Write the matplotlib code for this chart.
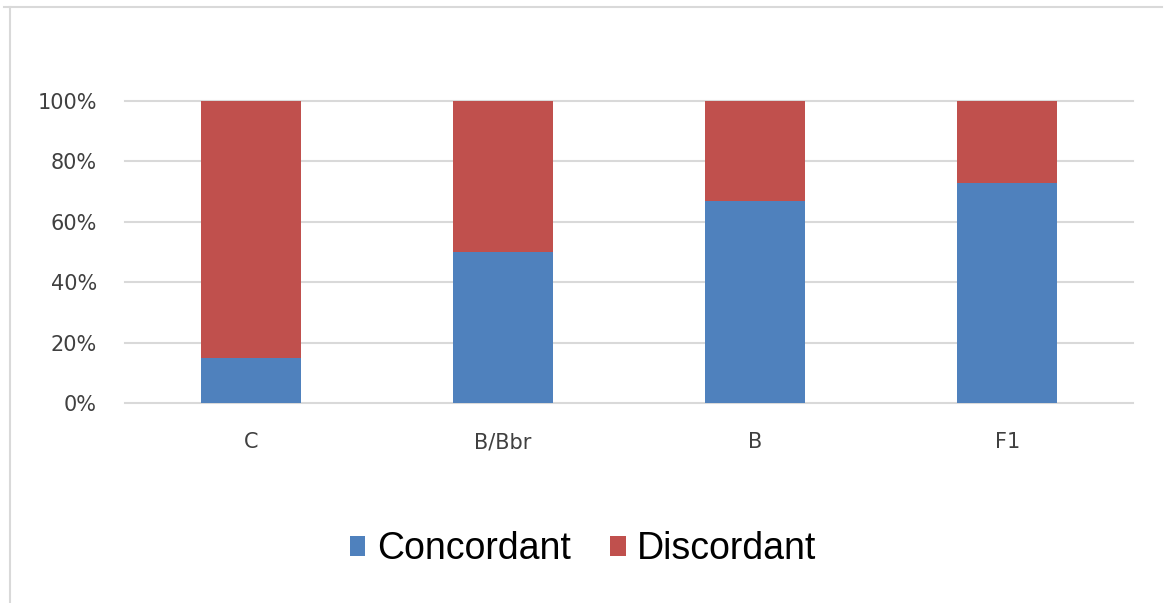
import matplotlib
matplotlib.use("Agg")
import matplotlib.pyplot as plt
from matplotlib.lines import Line2D
from matplotlib.ticker import FuncFormatter

categories = ["C", "B/Bbr", "B", "F1"]
concordant = [15, 50, 67, 73]
discordant = [85, 50, 33, 27]

blue = "#4F81BD"
red = "#C0504D"

fig = plt.figure(figsize=(11.66, 6.03), dpi=100)
ax = fig.add_axes([0.107, 0.3317, 0.865, 0.5008])

x = range(len(categories))
ax.bar(x, concordant, width=0.397, color=blue, label="Concordant", zorder=3)
ax.bar(x, discordant, width=0.397, bottom=concordant, color=red,
       label="Discordant", zorder=3)

ax.set_xlim(-0.5, len(categories) - 0.5)
ax.set_ylim(0, 100)
ax.set_yticks([0, 20, 40, 60, 80, 100])
ax.yaxis.set_major_formatter(FuncFormatter(lambda v, p: "%d%%" % v))
ax.set_xticks(list(x))
ax.set_xticklabels(categories)
ax.grid(axis="y", color="#D9D9D9", linewidth=1.5, zorder=0)
for gl in ax.yaxis.get_gridlines():
    gl.set_clip_on(False)
for s in ax.spines.values():
    s.set_visible(False)
ax.tick_params(length=0, labelsize=15, colors="#404040")
ax.tick_params(axis="y", pad=20)
ax.tick_params(axis="x", pad=21)

fig.legend(loc="center", bbox_to_anchor=(0.5, 0.089), ncol=2, frameon=False,
           handlelength=0.42, handleheight=0.42,
           handletextpad=0.3, columnspacing=1.05,
           prop={"family": "Liberation Sans", "size": 27})

# light frame along the top and left edges
fig.add_artist(Line2D([4 / 1166, 1162 / 1166], [1 - 7 / 603, 1 - 7 / 603],
                      transform=fig.transFigure, color="#D9D9D9", lw=1.5))
fig.add_artist(Line2D([10 / 1166, 10 / 1166], [0, 1 - 7 / 603],
                      transform=fig.transFigure, color="#D9D9D9", lw=1.5))

fig.savefig("out.png", dpi=100)
